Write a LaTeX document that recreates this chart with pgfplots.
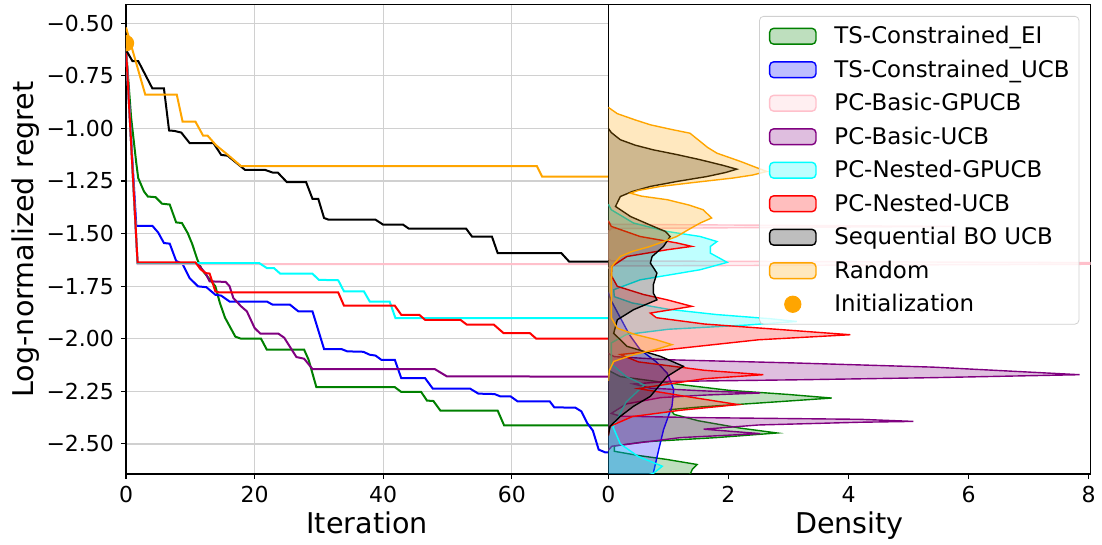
\documentclass[border=0pt]{standalone}
\usepackage{fontspec}
\setmainfont{DejaVu Sans}
\usepackage{pgfplots}
\pgfplotsset{compat=1.18}
\definecolor{mgreen}{HTML}{008000}
\definecolor{mblue}{HTML}{0000FF}
\definecolor{mpink}{HTML}{FFC0CB}
\definecolor{mpurple}{HTML}{800080}
\definecolor{mcyan}{HTML}{00FFFF}
\definecolor{mred}{HTML}{FF0000}
\definecolor{morange}{HTML}{FFA500}
\definecolor{gridgray}{HTML}{D0D0D0}
% right half of a disc: the part of the marker that lies inside the axis at x=0
\pgfdeclareplotmark{rhalfdisc}{%
  \pgfpathmoveto{\pgfqpoint{0pt}{\pgfplotmarksize}}%
  \pgfpatharc{90}{-90}{\pgfplotmarksize}%
  \pgfpathclose
  \pgfusepathqfill}
\pgfplotsset{
  common/.style={
    scale only axis, height=234.65pt,
    ymin=-2.643, ymax=-0.412,
    tick align=outside, major tick length=2.5pt,
    xtick pos=bottom, ytick pos=left,
    tick style={black, line width=0.55pt},
    axis line style={line width=0.55pt},
    ticklabel style={font=\fontsize{11}{13}\selectfont},
    label style={font=\fontsize{14.3}{17}\selectfont},
    xlabel style={at={(axis description cs:0.5,-0.1264)}, anchor=base},
  },
  dens/.style={line width=0.7pt, draw=#1, fill=#1, fill opacity=0.25, draw opacity=1,
    legend image code/.code={\draw[##1] (0pt,-3.95pt) rectangle (23.15pt,3.95pt);}},
}
\begin{document}
\begin{tikzpicture}
\useasboundingbox (-63pt,-35.5pt) rectangle (488pt,237pt);
\begin{axis}[common,
  at={(0pt,0pt)}, anchor=south west, width=241.15pt,
  xmin=0, xmax=75,
  xtick={0,20,40,60}, xticklabels={0,20,40,60},
  ytick={-2.5,-2.25,-2,-1.75,-1.5,-1.25,-1,-0.75,-0.5},
  yticklabels={−2.50,−2.25,−2.00,−1.75,−1.50,−1.25,−1.00,−0.75,−0.50},
  grid=major, major grid style={gridgray, line width=0.6pt},
  xlabel={Iteration}, ylabel={Log-normalized regret},
  ylabel style={at={(axis description cs:-0.1922,0.5)}, anchor=base},
  every axis plot/.append style={line width=1pt},
]
\addplot[mgreen] coordinates {(0,-0.62) (0.8,-0.95) (1.6,-1.165) (1.9,-1.236) (2.8,-1.30) (3.4,-1.324) (4.6,-1.327) (5.6,-1.358) (6.8,-1.362) (7.8,-1.447) (8.7,-1.45) (9.6,-1.498) (10.3,-1.55) (11.1,-1.624) (11.8,-1.672) (13.9,-1.751) (14.6,-1.83) (15.4,-1.90) (17.0,-1.99) (17.9,-2.0) (21.0,-2.0) (21.9,-2.052) (27.7,-2.052) (28.4,-2.10) (29.6,-2.23) (41.8,-2.23) (42.8,-2.253) (45.9,-2.253) (46.8,-2.294) (47.8,-2.296) (48.9,-2.342) (57.8,-2.342) (58.8,-2.412) (75,-2.412)};
\addplot[mblue] coordinates {(0,-0.62) (0.8,-1.05) (1.6,-1.463) (4.1,-1.463) (5.0,-1.495) (5.9,-1.545) (6.8,-1.548) (7.8,-1.63) (8.8,-1.645) (9.9,-1.712) (11.2,-1.751) (12.5,-1.755) (13.9,-1.791) (14.8,-1.795) (16.1,-1.823) (21.9,-1.823) (22.8,-1.838) (25.5,-1.838) (26.8,-1.87) (29.0,-1.87) (30.8,-2.049) (33.5,-2.049) (34.4,-2.06) (36.9,-2.062) (37.9,-2.076) (38.8,-2.08) (39.7,-2.1) (41.8,-2.1) (42.8,-2.187) (46.5,-2.187) (47.7,-2.237) (53.5,-2.237) (54.8,-2.261) (57.3,-2.263) (58.2,-2.274) (59.8,-2.274) (60.9,-2.298) (65.9,-2.298) (66.6,-2.326) (69.9,-2.328) (70.8,-2.345) (71.7,-2.40) (72.6,-2.437) (73.5,-2.527) (74.5,-2.54) (75,-2.54)};
\addplot[mpink] coordinates {(0,-0.62) (1.8,-1.645) (75,-1.645)};
\addplot[mpurple] coordinates {(0,-0.62) (1.8,-1.64) (11.0,-1.64) (12.4,-1.69) (13.0,-1.727) (15.5,-1.73) (16.1,-1.75) (16.7,-1.807) (17.9,-1.846) (18.8,-1.87) (20.0,-1.949) (20.9,-1.976) (23.7,-1.976) (24.6,-1.995) (26.5,-2.087) (27.7,-2.095) (29.0,-2.144) (48.0,-2.144) (49.9,-2.179) (75,-2.18)};
\addplot[mcyan] coordinates {(0,-0.62) (1.8,-1.64) (20.7,-1.64) (21.9,-1.664) (23.0,-1.664) (24.0,-1.691) (29.0,-1.691) (30.0,-1.72) (33.0,-1.722) (33.9,-1.775) (37.0,-1.775) (37.9,-1.823) (41.0,-1.823) (41.9,-1.902) (75,-1.902)};
\addplot[mred] coordinates {(0,-0.62) (1.8,-1.637) (10.8,-1.637) (11.6,-1.67) (12.4,-1.688) (13.0,-1.69) (13.9,-1.775) (14.5,-1.78) (33.0,-1.78) (33.9,-1.843) (41.8,-1.843) (42.8,-1.886) (45.6,-1.886) (46.5,-1.91) (52.0,-1.91) (53.0,-1.933) (57.2,-1.933) (58.7,-1.973) (62.8,-1.973) (63.8,-2.0) (75,-2.0)};
\addplot[black] coordinates {(0,-0.627) (1.0,-0.68) (1.9,-0.68) (4.1,-0.81) (5.9,-0.81) (6.7,-1.01) (7.5,-1.012) (8.6,-1.02) (9.9,-1.07) (13.6,-1.07) (14.8,-1.126) (15.8,-1.13) (18.5,-1.197) (21.6,-1.197) (22.8,-1.21) (23.6,-1.21) (25.0,-1.255) (28.0,-1.255) (29.0,-1.335) (29.9,-1.335) (30.8,-1.426) (31.5,-1.434) (38.8,-1.434) (40.0,-1.458) (43.1,-1.458) (44.0,-1.477) (52.9,-1.477) (53.8,-1.514) (56.9,-1.514) (57.8,-1.593) (67.7,-1.593) (68.9,-1.633) (75,-1.633)};
\addplot[morange] coordinates {(0,-0.52) (3.0,-0.84) (7.9,-0.84) (8.8,-0.968) (10.8,-0.968) (12.0,-1.035) (12.7,-1.035) (14.0,-1.08) (15.2,-1.11) (16.0,-1.13) (17.9,-1.18) (63.9,-1.18) (64.7,-1.229) (75,-1.229)};
\addplot[only marks, mark=rhalfdisc, mark size=4.1pt, color=morange, mark options={fill=morange}] coordinates {(0,-0.595)};
\end{axis}
\begin{axis}[common,
  at={(241.15pt,0pt)}, anchor=south west, width=241.1pt,
  xmin=0, xmax=8.03,
  xtick={0,2,4,6,8}, xticklabels={0,2,4,6,8},
  ytick=\empty,
  xlabel={Density},
  legend cell align=left,
  legend style={at={(axis description cs:0.9768,0.976)}, anchor=north east,
    font=\fontsize{11.45}{13.5}\selectfont,
    draw=gridgray, rounded corners=2pt, fill=white, fill opacity=0.8, text opacity=1,
    inner xsep=4.7pt, inner ysep=4.45pt, row sep=5.75pt, column sep=8.9pt,
    nodes={inner sep=0pt, text height=9.2pt, text depth=1.8pt}},
]
\addplot[dens=mgreen] coordinates {(0,-2.15) (0.2,-2.18) (0.98,-2.21) (2.0,-2.245) (3.0,-2.265) (3.72,-2.282) (2.8,-2.30) (1.5,-2.325) (1.03,-2.337) (1.1,-2.36) (1.5,-2.39) (2.2,-2.425) (2.81,-2.448) (1.8,-2.47) (0.6,-2.49) (0.1,-2.51) (0.1,-2.535) (0.5,-2.555) (0.98,-2.574) (1.48,-2.598) (1.40,-2.62) (1.37,-2.64) (1.3,-2.66) (0,-2.7)};
\addlegendentry{TS-Constrained\_EI}
\addplot[dens=mblue] coordinates {(0,-1.78) (0.05,-1.82) (0.2,-1.90) (0.35,-1.98) (0.53,-2.052) (0.8,-2.11) (0.98,-2.163) (1.09,-2.242) (1.06,-2.321) (0.92,-2.432) (0.84,-2.527) (0.75,-2.638) (0.74,-2.66) (0,-2.7)};
\addlegendentry{TS-Constrained\_UCB}
\addplot[dens=mpink] coordinates {(0,-1.44) (0.05,-1.456) (5.8,-1.466) (0.05,-1.476) (0,-1.49) (0,-1.62) (0.05,-1.63) (12,-1.642) (0.05,-1.654) (0,-1.665)};
\addlegendentry{PC-Basic-GPUCB}
\addplot[dens=mpurple] coordinates {(0,-2.07) (0.1,-2.085) (1.0,-2.10) (3.08,-2.115) (5.41,-2.135) (7.85,-2.171) (5.41,-2.185) (3.2,-2.195) (1.0,-2.203) (0.42,-2.215) (0.7,-2.235) (1.6,-2.248) (2.53,-2.258) (1.6,-2.268) (0.87,-2.28) (0.3,-2.31) (0.05,-2.355) (0.2,-2.368) (1.5,-2.375) (4.19,-2.383) (5.08,-2.393) (4.19,-2.397) (2.5,-2.41) (1.59,-2.43) (2.53,-2.451) (1.2,-2.47) (0.06,-2.511) (0,-2.53)};
\addlegendentry{PC-Basic-UCB}
\addplot[dens=mcyan] coordinates {(0,-1.36) (0.05,-1.387) (0.42,-1.45) (0.98,-1.49) (1.53,-1.514) (1.81,-1.538) (1.70,-1.561) (1.70,-1.593) (1.98,-1.637) (1.53,-1.672) (0.53,-1.72) (0.09,-1.767) (0.1,-1.80) (0.4,-1.83) (1.0,-1.86) (1.8,-1.885) (2.7,-1.905) (3.14,-1.918) (2.3,-1.935) (1.0,-1.955) (0.3,-1.98) (0.05,-2.02) (0.05,-2.12) (0.3,-2.18) (0.6,-2.22) (0.3,-2.30) (0.08,-2.42) (0.2,-2.5) (0.5,-2.56) (0.9,-2.606) (0.75,-2.64) (0.4,-2.67) (0,-2.7)};
\addlegendentry{PC-Nested-GPUCB}
\addplot[dens=mred] coordinates {(0,-1.44) (0.05,-1.466) (0.53,-1.514) (1.15,-1.545) (1.39,-1.561) (0.98,-1.577) (0.31,-1.609) (0.06,-1.656) (0.05,-1.70) (0.15,-1.751) (0.59,-1.79) (0.98,-1.815) (1.39,-1.846) (0.7,-1.878) (0.8,-1.90) (1.6,-1.93) (2.8,-1.955) (4.03,-1.981) (2.5,-2.005) (0.98,-2.052) (0.2,-2.075) (0.5,-2.11) (1.6,-2.15) (2.58,-2.171) (1.6,-2.19) (0.5,-2.237) (1.2,-2.27) (2.16,-2.313) (1.2,-2.34) (0.4,-2.37) (0.03,-2.416) (0,-2.46)};
\addlegendentry{PC-Nested-UCB}
\addplot[dens=black] coordinates {(0,-1.00) (0.05,-1.02) (0.2,-1.054) (0.45,-1.08) (0.75,-1.102) (1.15,-1.125) (1.53,-1.149) (1.90,-1.175) (2.14,-1.194) (1.95,-1.21) (1.64,-1.229) (1.15,-1.252) (0.70,-1.276) (0.40,-1.30) (0.2,-1.324) (0.12,-1.371) (0.37,-1.419) (0.75,-1.466) (0.95,-1.49) (1.03,-1.514) (0.92,-1.561) (0.73,-1.609) (0.70,-1.64) (0.81,-1.688) (0.75,-1.743) (0.75,-1.783) (0.81,-1.815) (0.42,-1.862) (0.15,-1.91) (0.09,-1.974) (0.31,-2.036) (0.87,-2.084) (1.25,-2.131) (0.98,-2.179) (0.84,-2.226) (0.70,-2.274) (0.42,-2.321) (0.2,-2.369) (0.03,-2.416) (0,-2.46)};
\addlegendentry{Sequential BO UCB}
\addplot[dens=morange] coordinates {(0,-0.90) (0.15,-0.93) (0.45,-0.96) (0.70,-0.983) (1.05,-1.005) (1.36,-1.023) (1.53,-1.062) (1.65,-1.09) (1.81,-1.118) (2.20,-1.157) (2.50,-1.19) (2.64,-1.205) (2.40,-1.222) (2.08,-1.236) (1.40,-1.258) (0.87,-1.276) (0.50,-1.295) (0.37,-1.308) (0.55,-1.322) (0.98,-1.339) (1.35,-1.365) (1.58,-1.387) (1.72,-1.426) (1.53,-1.45) (1.33,-1.482) (1.14,-1.514) (0.90,-1.54) (0.70,-1.561) (0.40,-1.585) (0.20,-1.609) (0.06,-1.656) (0.05,-1.75) (0.05,-1.90) (0.15,-1.95) (0.45,-1.98) (0.80,-2.005) (1.06,-2.028) (0.80,-2.05) (0.42,-2.076) (0.09,-2.108) (0.02,-2.15) (0,-2.2)};
\addlegendentry{Random}
\addlegendimage{legend image code/.code={\fill[morange, fill opacity=1] (11.575pt,0pt) circle (4.1pt);}}
\addlegendentry{Initialization}
\end{axis}
\end{tikzpicture}
\end{document}
